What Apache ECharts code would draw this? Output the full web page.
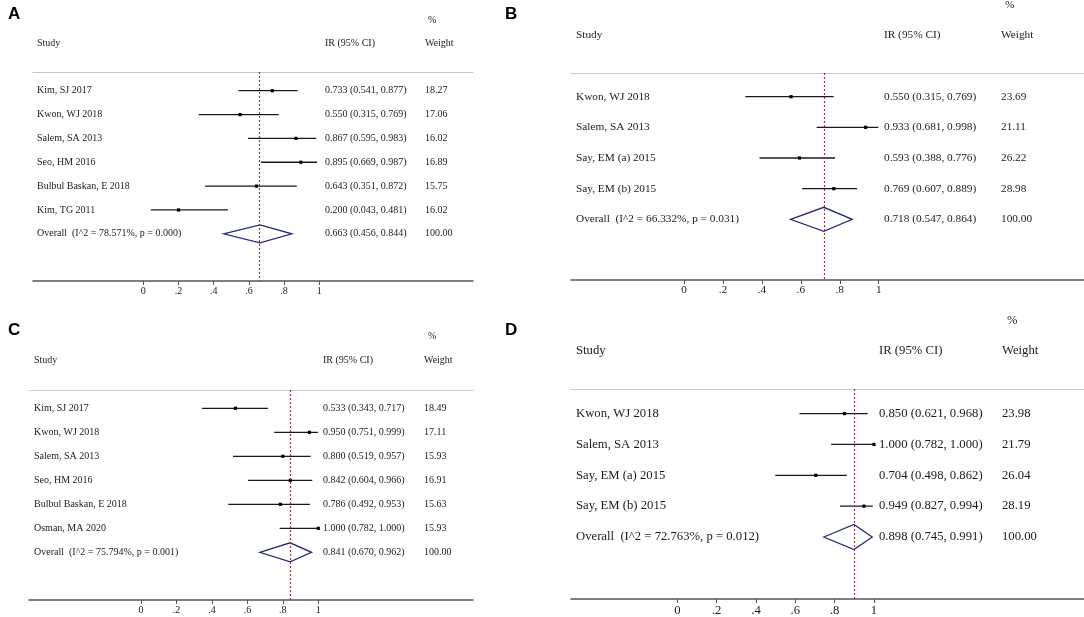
<!DOCTYPE html>
<html>
<head>
<meta charset="utf-8">
<title>Forest plots A-D</title>
<script src="https://cdn.jsdelivr.net/npm/echarts@6/dist/echarts.min.js"></script>
<style>
  html, body { margin: 0; padding: 0; background: #fff; }
  #chart { width: 1084px; height: 617px; }
</style>
</head>
<body>
<div id="chart"></div>
<script>
// ---- data ----
var tickValues = [0, 0.2, 0.4, 0.6, 0.8, 1];
var tickLabels = ['0', '.2', '.4', '.6', '.8', '1'];

// panel A
var studiesA = ['Kim, SJ 2017', 'Kwon, WJ 2018', 'Salem, SA 2013', 'Seo, HM 2016', 'Bulbul Baskan, E 2018', 'Kim, TG 2011'];
var irA = [0.733, 0.550, 0.867, 0.895, 0.643, 0.200];
var lowA = [0.541, 0.315, 0.595, 0.669, 0.351, 0.043];
var highA = [0.877, 0.769, 0.983, 0.987, 0.872, 0.481];
var weightA = [18.27, 17.06, 16.02, 16.89, 15.75, 16.02];
var overallA = [0.663, 0.456, 0.844];
var hetA = ['78.571%', '0.000'];

// panel B
var studiesB = ['Kwon, WJ 2018', 'Salem, SA 2013', 'Say, EM (a) 2015', 'Say, EM (b) 2015'];
var irB = [0.550, 0.933, 0.593, 0.769];
var lowB = [0.315, 0.681, 0.388, 0.607];
var highB = [0.769, 0.998, 0.776, 0.889];
var weightB = [23.69, 21.11, 26.22, 28.98];
var overallB = [0.718, 0.547, 0.864];
var hetB = ['66.332%', '0.031'];

// panel C
var studiesC = ['Kim, SJ 2017', 'Kwon, WJ 2018', 'Salem, SA 2013', 'Seo, HM 2016', 'Bulbul Baskan, E 2018', 'Osman, MA 2020'];
var irC = [0.533, 0.950, 0.800, 0.842, 0.786, 1.000];
var lowC = [0.343, 0.751, 0.519, 0.604, 0.492, 0.782];
var highC = [0.717, 0.999, 0.957, 0.966, 0.953, 1.000];
var weightC = [18.49, 17.11, 15.93, 16.91, 15.63, 15.93];
var overallC = [0.841, 0.670, 0.962];
var hetC = ['75.794%', '0.001'];

// panel D
var studiesD = ['Kwon, WJ 2018', 'Salem, SA 2013', 'Say, EM (a) 2015', 'Say, EM (b) 2015'];
var irD = [0.850, 1.000, 0.704, 0.949];
var lowD = [0.621, 0.782, 0.498, 0.827];
var highD = [0.968, 1.000, 0.862, 0.994];
var weightD = [23.98, 21.79, 26.04, 28.19];
var overallD = [0.898, 0.745, 0.991];
var hetD = ['72.763%', '0.012'];

// ---- layout of each panel (pixels) ----
var panels = [
  { letter: 'A', lx: 8, ly: 6, left: 33, right: 473, ruleY: 72, axisY: 281, x0: 143.3, x1: 319.3,
    row0: 90.7, step: 23.85, nameX: 37, irX: 325, wX: 425, font: 10, headY: 43, pctX: 428, pctY: 20, dh: 9,
    studies: studiesA, ir: irA, low: lowA, high: highA, weight: weightA, overall: overallA, het: hetA },
  { letter: 'B', lx: 505, ly: 6, left: 571, right: 1084, ruleY: 73, axisY: 280, x0: 684, x1: 878.7,
    row0: 96.7, step: 30.65, nameX: 576, irX: 884, wX: 1001, font: 11.3, headY: 35, pctX: 1005, pctY: 5, dh: 12,
    studies: studiesB, ir: irB, low: lowB, high: highB, weight: weightB, overall: overallB, het: hetB },
  { letter: 'C', lx: 8, ly: 322, left: 29, right: 473, ruleY: 390, axisY: 600, x0: 141, x1: 318.3,
    row0: 408.3, step: 24, nameX: 34, irX: 323, wX: 424, font: 10, headY: 360, pctX: 428, pctY: 336, dh: 9.5,
    studies: studiesC, ir: irC, low: lowC, high: highC, weight: weightC, overall: overallC, het: hetC },
  { letter: 'D', lx: 505, ly: 322, left: 571, right: 1084, ruleY: 389, axisY: 600, x0: 677.3, x1: 874,
    row0: 413.7, step: 31, nameX: 576, irX: 879, wX: 1002, font: 12.7, headY: 351, pctX: 1007, pctY: 321, dh: 12.5,
    studies: studiesD, ir: irD, low: lowD, high: highD, weight: weightD, overall: overallD, het: hetD }
];

var SERIF = '"Liberation Serif", "Times New Roman", serif';
var TXT = '#1a1a1a';

function ciText(e, l, h) {
  return e.toFixed(3) + ' (' + l.toFixed(3) + ', ' + h.toFixed(3) + ')';
}

var myChart = echarts.init(document.getElementById('chart'));
var grids = [], xAxes = [], yAxes = [], series = [], graphics = [];

panels.forEach(function (p, k) {
  var unit = p.x1 - p.x0;
  grids.push({ left: p.left, top: p.ruleY, width: p.right - p.left, height: p.axisY - p.ruleY, containLabel: false });
  // bottom scale
  xAxes.push({
    type: 'value', gridIndex: k, position: 'bottom',
    min: -(p.x0 - p.left) / unit, max: (p.right - p.x0) / unit,
    splitLine: { show: false },
    axisLine: { show: true, onZero: false, lineStyle: { color: '#555', width: 1.5 } },
    axisTick: { show: true, length: 4, customValues: tickValues, lineStyle: { color: '#555' } },
    axisLabel: {
      show: true, customValues: tickValues, margin: 5,
      fontFamily: SERIF, fontSize: p.font, color: TXT,
      formatter: function (v) { return tickLabels[tickValues.indexOf(Math.round(v * 10) / 10)] || ''; }
    }
  });
  // top rule under header
  xAxes.push({
    type: 'value', gridIndex: k, position: 'top',
    min: -(p.x0 - p.left) / unit, max: (p.right - p.x0) / unit,
    splitLine: { show: false }, axisTick: { show: false }, axisLabel: { show: false },
    axisLine: { show: true, onZero: false, lineStyle: { color: '#c8c8c8', width: 1.2 } }
  });
  yAxes.push({
    type: 'value', gridIndex: k, inverse: true, show: false,
    min: -(p.row0 - p.ruleY) / p.step, max: (p.axisY - p.row0) / p.step,
    splitLine: { show: false }
  });

  var rows = [];
  p.studies.forEach(function (s, i) {
    rows.push([p.ir[i], p.low[i], p.high[i], i, 0, s, ciText(p.ir[i], p.low[i], p.high[i]), p.weight[i].toFixed(2)]);
  });
  rows.push([p.overall[0], p.overall[1], p.overall[2], p.studies.length, 1,
    'Overall  (I^2 = ' + p.het[0] + ', p = ' + p.het[1] + ')',
    ciText(p.overall[0], p.overall[1], p.overall[2]), '100.00']);

  series.push({
    type: 'custom', xAxisIndex: k * 2, yAxisIndex: k, clip: false, silent: true,
    encode: { x: [0, 1, 2], y: 3 },
    data: rows,
    renderItem: function (params, api) {
      var est = api.value(0), lo = api.value(1), hi = api.value(2), r = api.value(3), ov = api.value(4);
      var c = api.coord([est, r]), a = api.coord([lo, r]), b = api.coord([hi, r]);
      var y = c[1];
      var font = p.font + 'px ' + SERIF;
      var kids = [];
      if (ov) {
        kids.push({ type: 'polygon', shape: { points: [[a[0], y], [c[0], y - p.dh], [b[0], y], [c[0], y + p.dh]] },
          style: { fill: '#fff', stroke: '#232a78', lineWidth: 1.3 } });
      } else {
        kids.push({ type: 'line', shape: { x1: a[0], y1: y, x2: b[0], y2: y },
          style: { stroke: '#1a1a1a', lineWidth: 1.3 } });
        kids.push({ type: 'rect', shape: { x: c[0] - 1.6, y: y - 1.6, width: 3.2, height: 3.2 },
          style: { fill: '#000' } });
      }
      var texts = [[p.nameX, rows[params.dataIndex][5]], [p.irX, rows[params.dataIndex][6]], [p.wX, rows[params.dataIndex][7]]];
      texts.forEach(function (t) {
        kids.push({ type: 'text', x: t[0], y: y,
          style: { text: t[1], font: font, fill: TXT, align: 'left', verticalAlign: 'middle' } });
      });
      return { type: 'group', children: kids };
    },
    markLine: {
      silent: true, symbol: 'none', label: { show: false },
      lineStyle: { color: '#a3323c', type: [2, 2], width: 1.2 },
      data: [{ xAxis: p.overall[0] }]
    }
  });

  // header texts and panel letter
  var hf = p.font + 'px ' + SERIF;
  graphics.push({ type: 'text', left: p.lx, top: p.ly,
    style: { text: p.letter, font: 'bold 17px "Liberation Sans", Arial, sans-serif', fill: '#000' } });
  graphics.push({ type: 'text', x: p.nameX, y: p.headY, style: { text: 'Study', font: hf, fill: TXT, verticalAlign: 'middle' } });
  graphics.push({ type: 'text', x: p.irX, y: p.headY, style: { text: 'IR (95% CI)', font: hf, fill: TXT, verticalAlign: 'middle' } });
  graphics.push({ type: 'text', x: p.wX, y: p.headY, style: { text: 'Weight', font: hf, fill: TXT, verticalAlign: 'middle' } });
  graphics.push({ type: 'text', x: p.pctX, y: p.pctY, style: { text: '%', font: hf, fill: TXT, verticalAlign: 'middle' } });
});

myChart.setOption({
  animation: false,
  backgroundColor: '#fff',
  grid: grids,
  xAxis: xAxes,
  yAxis: yAxes,
  series: series,
  graphic: graphics
});
</script>
</body>
</html>
